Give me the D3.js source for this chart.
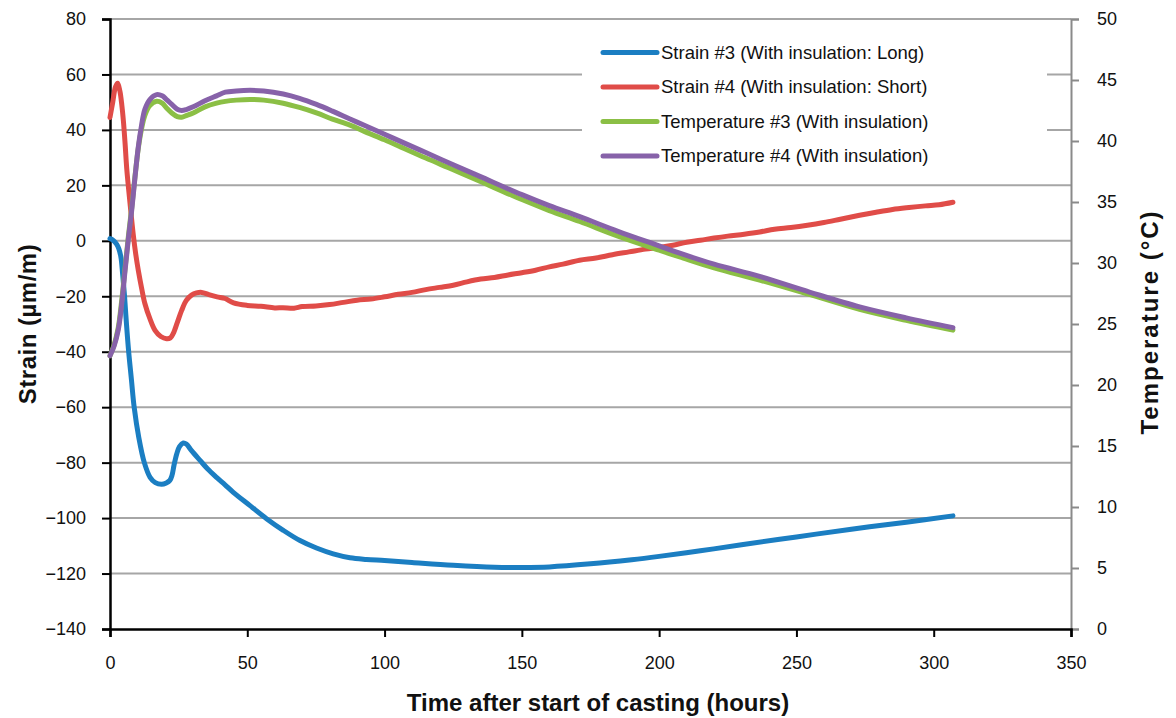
<!DOCTYPE html>
<html>
<head>
<meta charset="utf-8">
<script src="https://cdn.jsdelivr.net/npm/d3@7"></script>
<style>
  html, body { margin: 0; padding: 0; background: #ffffff; }
  svg { display: block; font-family: "Liberation Sans", Arial, sans-serif; }
</style>
</head>
<body>
<svg id="chart" width="1176" height="718"></svg>
<script>
// Strain #3 (long direction), µm/m
const strain3Time = [0, 1, 2.4, 3.2, 4, 4.6, 5.3, 6, 6.8, 7.8, 8.8, 10.5, 12.5, 14.6, 16.5, 18.8, 20.5, 21.8, 22.6, 23.3, 24.3, 25.3, 26.7, 27.8, 29.7, 32.8, 35.5, 38.8, 41.9, 44.9, 51, 57, 63.1, 69.2, 75.2, 81.3, 87.4, 93.4, 100, 110, 125, 140, 150, 160, 175, 190, 200, 215, 230, 250, 270, 290, 307];
const strain3Value = [0.8, 0.3, -1.2, -2.8, -6, -12, -20, -30, -40, -50, -60, -71, -80, -85.3, -87.2, -87.8, -87.3, -86.4, -84.5, -81, -76.9, -74.2, -72.9, -73.3, -75.7, -79.2, -82.2, -85.3, -88, -90.7, -95.5, -100.2, -104.4, -108.1, -110.8, -112.9, -114.3, -114.9, -115.3, -116, -117, -117.7, -117.8, -117.6, -116.5, -115, -113.8, -111.8, -109.6, -106.8, -104, -101.5, -99.2];

// Strain #4 (short direction), µm/m
const strain4Time = [0, 1, 2, 2.8, 3.6, 4.3, 4.9, 5.5, 6.1, 7.3, 8.5, 9.4, 10.3, 11.5, 12.7, 14.5, 16.4, 18.5, 20.6, 22, 23, 24.5, 26.1, 27.8, 29.7, 31.5, 33.4, 36, 39, 41.9, 45, 50, 55, 60, 63, 67, 70, 75, 80, 85, 90, 95, 100, 105, 110, 115, 120, 125, 130, 135, 140, 145, 150, 155, 160, 165, 171, 177, 183, 189, 195, 200, 205, 210, 215, 220, 225, 231, 236.6, 242, 248, 254, 260, 266, 273, 279, 285, 291, 297, 302, 307];
const strain4Value = [44.5, 50, 55.5, 56.8, 54, 49, 43, 35, 26, 13.5, 2, -5, -10.6, -17, -22.6, -28, -32.3, -34.5, -35.3, -35, -33.5, -29.5, -25.1, -21.5, -19.6, -18.8, -18.6, -19.4, -20.2, -20.8, -22.4, -23.3, -23.6, -24.2, -24.1, -24.3, -23.7, -23.5, -23.0, -22.2, -21.4, -21.0, -20.2, -19.3, -18.6, -17.6, -16.8, -16.0, -14.8, -13.8, -13.2, -12.3, -11.5, -10.6, -9.4, -8.4, -7.0, -6.2, -5.0, -4.0, -3.0, -2.4, -1.6, -0.5, 0.2, 1.0, 1.7, 2.4, 3.2, 4.2, 4.8, 5.6, 6.6, 7.8, 9.2, 10.3, 11.3, 12.0, 12.6, 13.0, 13.9];

// Temperature #3 and #4, °C
const temp3Time = [0, 1.5, 3, 4.2, 5.5, 6.7, 7.9, 9.1, 10.3, 11.5, 12.7, 14.5, 17, 19, 20.6, 22.5, 24.5, 26.1, 28, 30.3, 34.6, 38.8, 42, 46, 51, 56, 63.1, 69, 75.2, 81, 87.4, 93, 100, 106, 115, 125, 134.7, 150, 160, 171.1, 185, 200, 207.5, 220, 236.6, 255, 273, 290, 307];
const temp3Value = [22.4, 23.3, 24.7, 26.8, 29.6, 32.2, 34.5, 37.1, 39.4, 41.0, 42.1, 42.9, 43.25, 43.1, 42.7, 42.3, 42.0, 41.95, 42.1, 42.3, 42.8, 43.1, 43.25, 43.35, 43.4, 43.35, 43.1, 42.75, 42.3, 41.8, 41.3, 40.75, 40.1, 39.5, 38.6, 37.65, 36.7, 35.2, 34.3, 33.4, 32.2, 31.05, 30.5, 29.6, 28.6, 27.4, 26.2, 25.3, 24.5];
const temp4Time = [0, 1.5, 3, 4.2, 5.5, 6.7, 7.9, 9.1, 10.3, 11.5, 12.7, 14.5, 17, 19, 20.6, 22.5, 24.5, 26.1, 28, 30.3, 34.6, 38.8, 42, 46, 51, 56, 63.1, 69, 75.2, 81, 87.4, 93, 100, 106, 115, 125, 134.7, 150, 160, 171.1, 185, 200, 207.5, 220, 236.6, 255, 273, 290, 307];
const temp4Value = [22.4, 23.2, 24.5, 26.5, 29.4, 32, 34.3, 37, 39.5, 41.3, 42.6, 43.4, 43.8, 43.7, 43.4, 43.0, 42.6, 42.5, 42.6, 42.8, 43.3, 43.7, 44.0, 44.1, 44.15, 44.1, 43.85, 43.5, 43.0, 42.45, 41.8, 41.25, 40.55, 39.95, 39.05, 38.05, 37.1, 35.6, 34.7, 33.8, 32.6, 31.4, 30.8, 29.9, 28.9, 27.6, 26.4, 25.5, 24.7];

// Axis ticks and labels
const timeTicks = [0, 50, 100, 150, 200, 250, 300, 350];
const strainTicks = [-140, -120, -100, -80, -60, -40, -20, 0, 20, 40, 60, 80];
const tempTicks = [0, 5, 10, 15, 20, 25, 30, 35, 40, 45, 50];

const seriesNames = [
  "Strain #3 (With insulation: Long)",
  "Strain #4 (With insulation: Short)",
  "Temperature #3 (With insulation)",
  "Temperature #4 (With insulation)"
];
const seriesColors = ["#1b7ec2", "#e04c48", "#8bbf45", "#8762a9"];

const xTitle = "Time after start of casting (hours)";
const yLeftTitle = "Strain (µm/m)";
const yRightTitle = "Temperature (°C)";

// ---- layout ----
const plot = { left: 110, right: 1071, top: 19, bottom: 629 };
const svg = d3.select("#chart");

const x = d3.scaleLinear().domain([0, 350]).range([plot.left, plot.right]);
const yL = d3.scaleLinear().domain([-140, 80]).range([plot.bottom, plot.top]);
const yR = d3.scaleLinear().domain([0, 50]).range([plot.bottom, plot.top]);

const fmt = d => (d < 0 ? "\u2212" + Math.abs(d) : String(d));

// horizontal gridlines at strain ticks
svg.append("g")
  .selectAll("line")
  .data(strainTicks.filter(d => d > -140))
  .join("line")
  .attr("x1", plot.left).attr("x2", plot.right)
  .attr("y1", d => yL(d)).attr("y2", d => yL(d))
  .attr("stroke", "#a6a6a6").attr("stroke-width", 2);

// right axis (temperature)
const rightAxis = svg.append("g")
  .attr("transform", `translate(${plot.right},0)`)
  .call(d3.axisRight(yR).tickValues(tempTicks).tickSize(8).tickPadding(18).tickFormat(fmt));
rightAxis.select(".domain").attr("stroke", "#8a8a8a").attr("stroke-width", 2);
rightAxis.selectAll(".tick line").attr("stroke", "#8a8a8a").attr("stroke-width", 2);
rightAxis.selectAll("text").attr("font-size", 18).attr("fill", "#111").attr("font-family", "Liberation Sans, Arial, sans-serif");

// left axis (strain)
const leftAxis = svg.append("g")
  .attr("transform", `translate(${plot.left},0)`)
  .call(d3.axisLeft(yL).tickValues(strainTicks).tickSize(8).tickPadding(16).tickFormat(fmt));
leftAxis.select(".domain").attr("stroke", "#000").attr("stroke-width", 2.5);
leftAxis.selectAll(".tick line").attr("stroke", "#000").attr("stroke-width", 2);
leftAxis.selectAll("text").attr("font-size", 18).attr("fill", "#111").attr("font-family", "Liberation Sans, Arial, sans-serif");

// bottom axis (time)
const bottomAxis = svg.append("g")
  .attr("transform", `translate(0,${plot.bottom})`)
  .call(d3.axisBottom(x).tickValues(timeTicks).tickSize(8).tickPadding(19).tickFormat(fmt));
bottomAxis.select(".domain").attr("stroke", "#000").attr("stroke-width", 2.5);
bottomAxis.selectAll(".tick line").attr("stroke", "#000").attr("stroke-width", 2);
bottomAxis.selectAll("text").attr("font-size", 18).attr("fill", "#111").attr("font-family", "Liberation Sans, Arial, sans-serif");

// legend background (hides gridlines beneath it)
const legend = svg.append("g");
legend.append("rect")
  .attr("x", 582).attr("y", 30).attr("width", 465).attr("height", 144)
  .attr("fill", "#ffffff");

// data lines
const series = [
  { t: strain3Time, v: strain3Value, y: yL },
  { t: strain4Time, v: strain4Value, y: yL },
  { t: temp3Time, v: temp3Value, y: yR },
  { t: temp4Time, v: temp4Value, y: yR }
];
series.forEach((s, i) => {
  const pts = s.t.map((t, j) => [t, s.v[j]]);
  const line = d3.line()
    .x(d => x(d[0]))
    .y(d => s.y(d[1]))
    .curve(d3.curveCatmullRom.alpha(0.5));
  svg.append("path")
    .datum(pts)
    .attr("d", line)
    .attr("fill", "none")
    .attr("stroke", seriesColors[i])
    .attr("stroke-width", 5)
    .attr("stroke-linejoin", "round")
    .attr("stroke-linecap", "round");
});

// legend entries
const rowY = [52.5, 87, 121.5, 156];
seriesNames.forEach((name, i) => {
  legend.append("line")
    .attr("x1", 603).attr("x2", 657)
    .attr("y1", rowY[i]).attr("y2", rowY[i])
    .attr("stroke", seriesColors[i]).attr("stroke-width", 5)
    .attr("stroke-linecap", "round");
  legend.append("text")
    .attr("x", 661).attr("y", rowY[i])
    .attr("dy", "0.35em")
    .attr("font-size", 18.5).attr("fill", "#111")
    .text(name);
});

// axis titles
svg.append("text")
  .attr("x", 598).attr("y", 703).attr("dy", "0.35em")
  .attr("text-anchor", "middle")
  .attr("font-size", 24).attr("font-weight", "bold").attr("fill", "#111")
  .text(xTitle);

svg.append("text")
  .attr("transform", "translate(28,324) rotate(-90)")
  .attr("dy", "0.35em")
  .attr("text-anchor", "middle")
  .attr("font-size", 24).attr("font-weight", "bold").attr("fill", "#111")
  .attr("letter-spacing", 0.5)
  .text(yLeftTitle);

svg.append("text")
  .attr("transform", "translate(1150,322) rotate(-90)")
  .attr("dy", "0.35em")
  .attr("text-anchor", "middle")
  .attr("font-size", 24).attr("font-weight", "bold").attr("fill", "#111")
  .attr("letter-spacing", 2)
  .text(yRightTitle);
</script>
</body>
</html>
